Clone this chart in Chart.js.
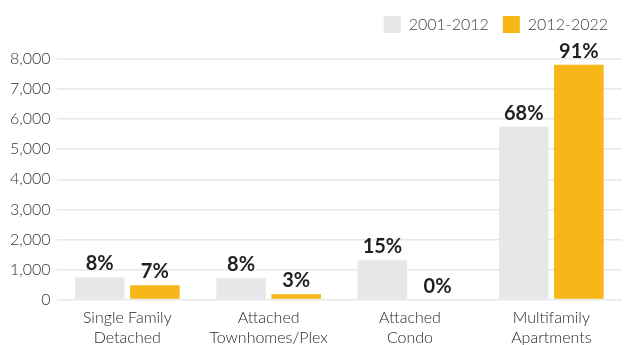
<!DOCTYPE html>
<html>
<head>
<meta charset="utf-8">
<script src="https://cdn.jsdelivr.net/npm/chart.js@4/dist/chart.umd.min.js"></script>
<style>
  html, body { margin: 0; padding: 0; background: #fff; }
  #wrap { width: 624px; height: 345px; position: relative; }
</style>
</head>
<body>
<div id="wrap"><canvas id="canvas"></canvas></div>
<script>
var categorias = [['Single Family', 'Detached'], ['Attached', 'Townhomes/Plex'], ['Attached', 'Condo'], ['Multifamily', 'Apartments']];
var periodo1 = '2001-2012';
var periodo2 = '2012-2022';
var unidades1 = [740, 710, 1310, 5750];
var unidades2 = [480, 180, 0, 7810];
var pct1 = ['8%', '8%', '15%', '68%'];
var pct2 = ['7%', '3%', '0%', '91%'];
var yTicks = [0, 1000, 2000, 3000, 4000, 5000, 6000, 7000, 8000];

var CINZA = '#e6e7e8';
var AMARELO = '#f8b719';

function createDataset(color, name, dados, rotulos) {
    return {
        label: name,
        backgroundColor: color,
        borderWidth: 0,
        data: dados,
        rotulos: rotulos,
        barPercentage: 0.9,
        categoryPercentage: 0.78
    };
}

// escreve o percentual em cima de cada barra
var rotuloPlugin = {
    id: 'rotulos',
    afterDatasetsDraw: function (chart) {
        var ctx = chart.ctx;
        ctx.save();
        ctx.font = 'bold 20px Lato';
        ctx.fillStyle = '#231f20';
        ctx.textAlign = 'center';
        ctx.textBaseline = 'alphabetic';
        chart.data.datasets.forEach(function (ds, i) {
            chart.getDatasetMeta(i).data.forEach(function (bar, j) {
                ctx.fillText(ds.rotulos[j], bar.x, bar.y - 7);
            });
        });
        ctx.restore();
    }
};

// espaco extra entre a legenda e o grafico
var espacoLegenda = {
    id: 'espacoLegenda',
    beforeInit: function (chart) {
        var fitOriginal = chart.legend.fit;
        chart.legend.fit = function () {
            fitOriginal.bind(chart.legend)();
            this.height += 16;
        };
    }
};

var config = {
    type: 'bar',
    data: {
        labels: categorias,
        datasets: [
            createDataset(CINZA, periodo1, unidades1, pct1),
            createDataset(AMARELO, periodo2, unidades2, pct2)
        ]
    },
    options: {
        responsive: false,
        animation: false,
        layout: { padding: { left: 4, right: 2, top: 2, bottom: -3 } },
        plugins: {
            legend: {
                align: 'end',
                labels: {
                    boxWidth: 17,
                    boxHeight: 17,
                    padding: 14,
                    color: '#444',
                    font: { family: 'Lato', size: 16, weight: 300 }
                }
            },
            tooltip: { enabled: false }
        },
        scales: {
            x: {
                grid: { display: false },
                border: { display: false },
                ticks: {
                    color: '#231f20',
                    font: { family: 'Lato', size: 16, weight: 300, lineHeight: 1.2 },
                    padding: 1
                }
            },
            y: {
                min: 0,
                max: 8000,
                afterBuildTicks: function (axis) {
                    axis.ticks = yTicks.map(function (v) { return { value: v }; });
                },
                grid: { color: '#e8e8e8', lineWidth: 1.5, drawTicks: false },
                border: { display: false },
                ticks: {
                    color: '#333',
                    padding: 6,
                    font: { family: 'Lato', size: 16, weight: 300 },
                    callback: function (v) { return v.toLocaleString('en-US'); }
                }
            }
        }
    },
    plugins: [rotuloPlugin, espacoLegenda]
};

var canvas = document.getElementById('canvas');
canvas.width = 624;
canvas.height = 345;
var ctx = canvas.getContext('2d');
window.myBar = new Chart(ctx, config);
</script>
</body>
</html>
